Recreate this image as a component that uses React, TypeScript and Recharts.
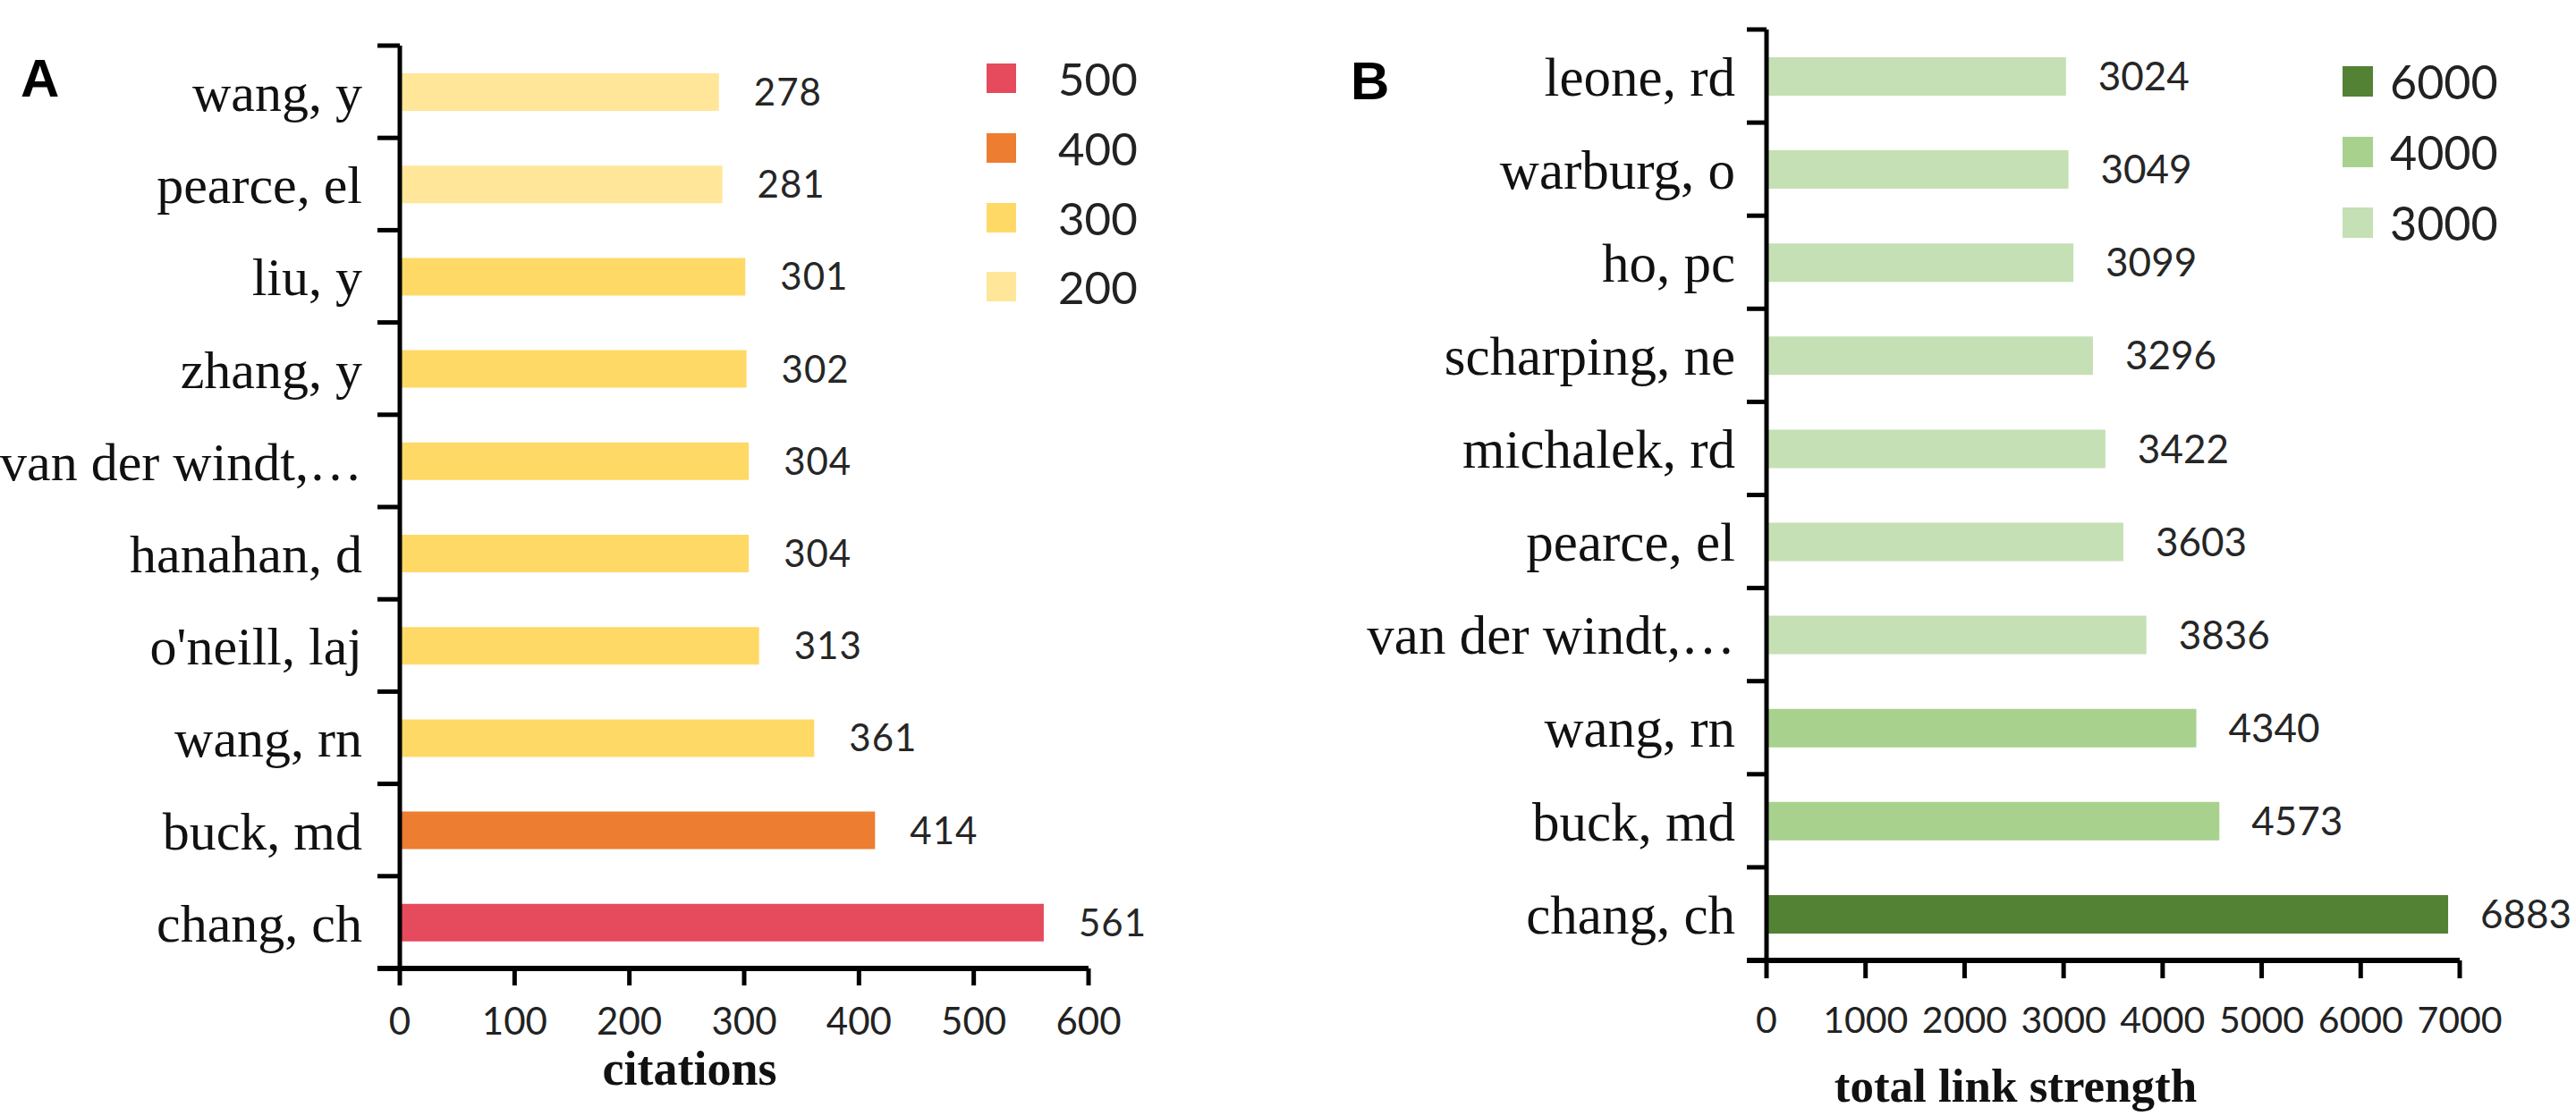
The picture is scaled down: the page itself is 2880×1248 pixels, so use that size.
import React from 'react';
import { BarChart, Bar, XAxis, YAxis, Cell, LabelList, Legend, Label } from 'recharts';

// ---------- Panel A data ----------
const authorsA = ['wang, y', 'pearce, el', 'liu, y', 'zhang, y', 'van der windt,…', 'hanahan, d', "o'neill, laj", 'wang, rn', 'buck, md', 'chang, ch'];
const citations = [278, 281, 301, 302, 304, 304, 313, 361, 414, 561];
const citationTicks = [0, 100, 200, 300, 400, 500, 600];
const citationTiers = [500, 400, 300, 200];
const citationTierColors = ['#E54B5D', '#ED7D31', '#FFD966', '#FFE699'];

// ---------- Panel B data ----------
const authorsB = ['leone, rd', 'warburg, o', 'ho, pc', 'scharping, ne', 'michalek, rd', 'pearce, el', 'van der windt,…', 'wang, rn', 'buck, md', 'chang, ch'];
const linkStrength = [3024, 3049, 3099, 3296, 3422, 3603, 3836, 4340, 4573, 6883];
const linkTicks = [0, 1000, 2000, 3000, 4000, 5000, 6000, 7000];
const linkTiers = [6000, 4000, 3000];
const linkTierColors = ['#548235', '#A9D18E', '#C5E0B4'];

const tierColor = (v: number, tiers: number[], colors: string[]) => {
  for (let i = 0; i < tiers.length; i++) if (v >= tiers[i]) return colors[i];
  return colors[colors.length - 1];
};

const dataA = authorsA.map((name, i) => ({ name, value: citations[i] }));
const dataB = authorsB.map((name, i) => ({ name, value: linkStrength[i] }));

const SERIF = "'Liberation Serif', 'Times New Roman', serif";
const SANS = "Lato, 'Open Sans', sans-serif";

function makeYTick(band: number, tickLen: number, gap: number, fontSize: number) {
  return (props: any) => {
    const { x, y, payload, index, visibleTicksCount } = props;
    const half = band / 2;
    return (
      <g>
        <line x1={x - tickLen} x2={x} y1={y - half} y2={y - half} stroke="#000" strokeWidth={5} />
        {index === visibleTicksCount - 1 && (
          <line x1={x - tickLen} x2={x} y1={y + half} y2={y + half} stroke="#000" strokeWidth={6} />
        )}
        <text x={x - gap} y={y} dy="0.355em" textAnchor="end" fontFamily={SERIF} fontSize={fontSize} fill="#111">
          {payload.value}
        </text>
      </g>
    );
  };
}

function LegendList({ tiers, colors, rowH, square, gap, fontSize }: any) {
  return (
    <div style={{ display: 'flex', flexDirection: 'column' }}>
      {tiers.map((t: number, i: number) => (
        <div key={t} style={{ display: 'flex', alignItems: 'center', height: rowH }}>
          <div style={{ width: square, height: square, background: colors[i] }} />
          <span style={{ marginLeft: gap, fontFamily: SANS, fontSize, color: '#222', lineHeight: 1 }}>{t}</span>
        </div>
      ))}
    </div>
  );
}

const W = 1440;
const H = 1248;

// Panel A layout
const A_TOP = 51;
const A_BOTTOM = 1083;
const A_LEFT = 447;
const A_RIGHT = 1217;
const A_BAND = (A_BOTTOM - A_TOP) / authorsA.length;

// Panel B layout (local coordinates)
const B_TOP = 33;
const B_BOTTOM = 1074;
const B_LEFT = 535;
const B_RIGHT = 1310;
const B_BAND = (B_BOTTOM - B_TOP) / authorsB.length;

export default function App() {
  return (
    <div style={{ position: 'absolute', left: 0, top: 0, width: 2880, height: 1248, background: '#fff', overflow: 'hidden' }}>
      <div style={{ position: 'absolute', left: 0, top: 0 }}>
        <BarChart
          width={W}
          height={H}
          layout="vertical"
          data={dataA}
          margin={{ top: A_TOP, right: W - A_RIGHT, bottom: 0, left: 0 }}
          barSize={42}
        >
          <XAxis
            type="number"
            domain={[0, 600]}
            ticks={citationTicks}
            interval={0}
            height={H - A_BOTTOM}
            tickSize={19}
            tickMargin={25}
            tickLine={{ stroke: '#000', strokeWidth: 5 }}
            axisLine={{ stroke: '#000', strokeWidth: 6 }}
            tick={{ fontFamily: SANS, fontSize: 42, fill: '#222' }}
          >
            <Label
              content={(p: any) => {
                const vb = p.viewBox || { x: A_LEFT, y: A_BOTTOM, width: A_RIGHT - A_LEFT, height: H - A_BOTTOM };
                return (
                  <text x={vb.x + vb.width / 2 - 61} y={vb.y + 130} textAnchor="middle" fontFamily={SERIF} fontWeight="bold" fontSize={54} fill="#111">
                    citations
                  </text>
                );
              }}
            />
          </XAxis>
          <YAxis
            type="category"
            dataKey="name"
            width={A_LEFT}
            interval={0}
            tickLine={false}
            tickSize={0}
            tickMargin={0}
            axisLine={{ stroke: '#000', strokeWidth: 5 }}
            tick={makeYTick(A_BAND, 25, 42, 60)}
          />
          <Legend
            layout="horizontal"
            verticalAlign="middle"
            align="center"
            wrapperStyle={{ left: 1103, top: 49, width: 260, height: 320 }}
            content={() => (
              <LegendList tiers={citationTiers} colors={citationTierColors} rowH={77.7} square={33} gap={47} fontSize={51} />
            )}
          />
          <Bar dataKey="value" isAnimationActive={false}>
            {dataA.map((d, i) => (
              <Cell key={i} fill={tierColor(d.value, citationTiers, citationTierColors)} />
            ))}
            <LabelList dataKey="value" position="right" offset={39} fontFamily={SANS} fontSize={42} fill="#262626" letterSpacing={1} />
          </Bar>
        </BarChart>
      </div>

      <div style={{ position: 'absolute', left: 1440, top: 0 }}>
        <BarChart
          width={W}
          height={H}
          layout="vertical"
          data={dataB}
          margin={{ top: B_TOP, right: W - B_RIGHT, bottom: 0, left: 0 }}
          barSize={43}
        >
          <XAxis
            type="number"
            domain={[0, 7000]}
            ticks={linkTicks}
            interval={0}
            height={H - B_BOTTOM}
            tickSize={20}
            tickMargin={32}
            tickLine={{ stroke: '#000', strokeWidth: 5 }}
            axisLine={{ stroke: '#000', strokeWidth: 6 }}
            tick={{ fontFamily: SANS, fontSize: 41, fill: '#222' }}
          >
            <Label
              content={(p: any) => {
                const vb = p.viewBox || { x: B_LEFT, y: B_BOTTOM, width: B_RIGHT - B_LEFT, height: H - B_BOTTOM };
                return (
                  <text x={vb.x + vb.width / 2 - 109} y={vb.y + 158} textAnchor="middle" fontFamily={SERIF} fontWeight="bold" fontSize={53} fill="#111">
                    total link strength
                  </text>
                );
              }}
            />
          </XAxis>
          <YAxis
            type="category"
            dataKey="name"
            width={B_LEFT}
            interval={0}
            tickLine={false}
            tickSize={0}
            tickMargin={0}
            axisLine={{ stroke: '#000', strokeWidth: 5 }}
            tick={makeYTick(B_BAND, 22, 35, 61)}
          />
          <Legend
            layout="horizontal"
            verticalAlign="middle"
            align="center"
            wrapperStyle={{ left: 1179, top: 51, width: 250, height: 260 }}
            content={() => (
              <LegendList tiers={linkTiers} colors={linkTierColors} rowH={79} square={34} gap={19} fontSize={52} />
            )}
          />
          <Bar dataKey="value" isAnimationActive={false}>
            {dataB.map((d, i) => (
              <Cell key={i} fill={tierColor(d.value, linkTiers, linkTierColors)} />
            ))}
            <LabelList dataKey="value" position="right" offset={36} fontFamily={SANS} fontSize={44} fill="#262626" />
          </Bar>
        </BarChart>
      </div>

      <svg width={2880} height={1248} style={{ position: 'absolute', left: 0, top: 0, pointerEvents: 'none' }}>
        <text x={23} y={108} fontFamily="'Liberation Sans', Arial, sans-serif" fontWeight="bold" fontSize={60} fill="#000">A</text>
        <text x={1510} y={111} fontFamily="'Liberation Sans', Arial, sans-serif" fontWeight="bold" fontSize={60} fill="#000">B</text>
      </svg>
    </div>
  );
}
